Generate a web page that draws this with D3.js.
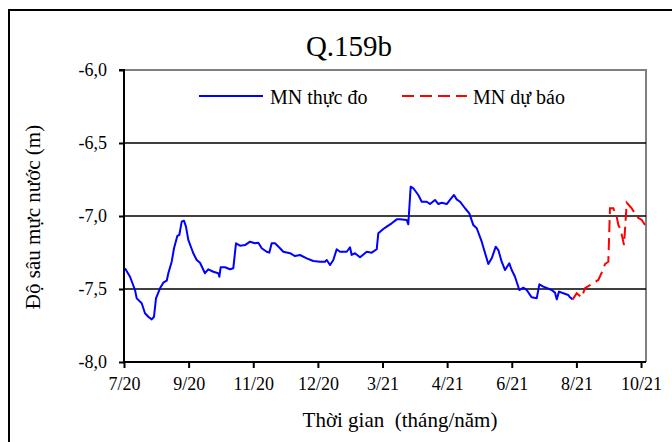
<!DOCTYPE html>
<html><head><meta charset="utf-8">
<script src="https://cdn.jsdelivr.net/npm/d3@7/dist/d3.min.js"></script>
<style>
body{margin:0;background:#fff;}
</style></head>
<body><svg id="c" width="672" height="442"></svg>
<script>
// Tick labels (x is measured in tick-interval units, 0 = 7/20 ... 8 = 10/21)
const tickLabels = ["7/20","9/20","11/20","12/20","3/21","4/21","6/21","8/21","10/21"];
const yTicks = [-6.0,-6.5,-7.0,-7.5,-8.0];
// Observed water level (MN thực đo)
const obsX = [0.015,0.093,0.170,0.197,0.274,0.325,0.376,0.429,0.464,0.495,0.557,0.608,0.661,0.686,0.738,0.774,0.825,0.856,0.893,0.928,0.959,0.995,1.072,1.125,1.176,1.253,1.304,1.382,1.459,1.475,1.496,1.563,1.640,1.691,1.733,1.795,1.872,1.950,2.027,2.078,2.131,2.208,2.248,2.285,2.337,2.414,2.465,2.569,2.646,2.723,2.827,2.929,3.033,3.110,3.137,3.188,3.239,3.291,3.342,3.446,3.497,3.523,3.574,3.652,3.755,3.833,3.910,3.935,4.012,4.065,4.142,4.220,4.271,4.375,4.399,4.436,4.477,4.554,4.607,4.684,4.735,4.812,4.864,4.916,4.994,5.044,5.106,5.148,5.199,5.277,5.343,5.405,5.458,5.535,5.637,5.690,5.752,5.792,5.844,5.896,5.962,5.999,6.050,6.117,6.179,6.231,6.309,6.386,6.427,6.488,6.618,6.669,6.696,6.731,6.798,6.875,6.901,6.943];
const obsY = [-7.358,-7.416,-7.507,-7.564,-7.598,-7.666,-7.690,-7.708,-7.690,-7.564,-7.495,-7.457,-7.443,-7.392,-7.313,-7.221,-7.137,-7.130,-7.039,-7.032,-7.073,-7.164,-7.255,-7.301,-7.320,-7.392,-7.365,-7.382,-7.392,-7.416,-7.351,-7.351,-7.365,-7.358,-7.187,-7.203,-7.199,-7.176,-7.187,-7.183,-7.221,-7.245,-7.251,-7.187,-7.187,-7.221,-7.245,-7.255,-7.274,-7.267,-7.290,-7.308,-7.313,-7.313,-7.301,-7.336,-7.301,-7.228,-7.245,-7.245,-7.214,-7.267,-7.255,-7.283,-7.245,-7.251,-7.228,-7.119,-7.089,-7.073,-7.050,-7.023,-7.023,-7.027,-7.057,-6.799,-6.810,-6.856,-6.902,-6.902,-6.918,-6.890,-6.918,-6.909,-6.918,-6.890,-6.856,-6.886,-6.902,-6.947,-6.982,-7.062,-7.084,-7.176,-7.329,-7.290,-7.210,-7.233,-7.313,-7.370,-7.324,-7.370,-7.416,-7.507,-7.491,-7.507,-7.557,-7.564,-7.468,-7.484,-7.507,-7.525,-7.571,-7.518,-7.529,-7.541,-7.557,-7.571];
// Forecast water level (MN dự báo)
const fcX = [6.943,7.005,7.082,7.133,7.237,7.339,7.392,7.443,7.494,7.520,7.571,7.624,7.649,7.686,7.737,7.779,7.856,7.933,8.011,8.062];
const fcY = [-7.571,-7.529,-7.557,-7.495,-7.466,-7.438,-7.388,-7.329,-7.313,-6.947,-6.947,-7.005,-7.062,-7.096,-7.199,-6.909,-6.947,-7.005,-7.027,-7.062];

const FONT = "'Liberation Serif'";
const svg = d3.select("#c");
const L=124, R=646, T=70, B=362;
const x = d3.scaleLinear().domain([0,8.077]).range([L,R]);
const y = d3.scaleLinear().domain([-8,-6]).range([B,T]);

// outer border
svg.append("rect").attr("x",9).attr("y",10).attr("width",680).attr("height",450)
  .attr("fill","none").attr("stroke","#000").attr("stroke-width",2);

// plot frame (top/right gray)
svg.append("path").attr("d",`M${L},${T}H${R}V${B}`).attr("fill","none")
  .attr("stroke","#808080").attr("stroke-width",2);

// gridlines
svg.append("g").selectAll("line").data(yTicks.filter(v=>v>-8 && v<-6)).join("line")
  .attr("x1",L).attr("x2",R).attr("y1",d=>y(d)).attr("y2",d=>y(d))
  .attr("stroke","#000").attr("stroke-width",1.6);

// y axis
const yAxis = d3.axisLeft(y).tickValues(yTicks).tickSize(5).tickPadding(12)
  .tickFormat(d=>d.toFixed(1).replace(".",","));
const gy = svg.append("g").attr("transform",`translate(${L},0)`).call(yAxis);
gy.select(".domain").attr("stroke","#000").attr("stroke-width",2).attr("d",`M-5,${T}H0V${B}`);
gy.selectAll(".tick line").attr("stroke","#000").attr("stroke-width",2);
gy.selectAll(".tick text").style("font-family",FONT).attr("font-size",18).attr("fill","#000");

// x axis
const xAxis = d3.axisBottom(x).tickValues(d3.range(0,9)).tickSize(6).tickPadding(9)
  .tickFormat(i=>tickLabels[i]);
const gx = svg.append("g").attr("transform",`translate(0,${B})`).call(xAxis);
gx.select(".domain").attr("stroke","#000").attr("stroke-width",2).attr("d",`M${L},0H${R}`);
gx.selectAll(".tick line").attr("stroke","#000").attr("stroke-width",2);
gx.selectAll(".tick text").style("font-family",FONT).attr("font-size",18).attr("fill","#000");

// lines
const line = d3.line().x(d=>x(d[0])).y(d=>y(d[1]));
svg.append("path").datum(d3.zip(obsX,obsY)).attr("d",line)
  .attr("fill","none").attr("stroke","#0000ff").attr("stroke-width",2).attr("stroke-linejoin","round");
svg.append("path").datum(d3.zip(fcX,fcY)).attr("d",line)
  .attr("fill","none").attr("stroke","#ff0000").attr("stroke-width",2).attr("stroke-dasharray","12,6");

// title
svg.append("text").attr("x",349).attr("y",56).attr("text-anchor","middle")
  .style("font-family",FONT).attr("font-size",29).text("Q.159b");

// legend
svg.append("line").attr("x1",199).attr("x2",263).attr("y1",96).attr("y2",96)
  .attr("stroke","#0000ff").attr("stroke-width",2);
svg.append("text").attr("x",270).attr("y",104).style("font-family",FONT).attr("font-size",20).text("MN thực đo");
svg.append("line").attr("x1",402).attr("x2",467).attr("y1",96).attr("y2",96)
  .attr("stroke","#ff0000").attr("stroke-width",2).attr("stroke-dasharray","12,6");
svg.append("text").attr("x",473).attr("y",104).style("font-family",FONT).attr("font-size",20).text("MN dự báo");

// axis titles
svg.append("text").attr("x",400).attr("y",427).attr("text-anchor","middle")
  .style("font-family",FONT).attr("font-size",21).style("white-space","pre").text("Thời gian  (tháng/năm)");
svg.append("text").attr("transform","translate(40,217) rotate(-90)").attr("text-anchor","middle")
  .style("font-family",FONT).attr("font-size",21).text("Độ sâu mực nước (m)");
</script></body></html>
